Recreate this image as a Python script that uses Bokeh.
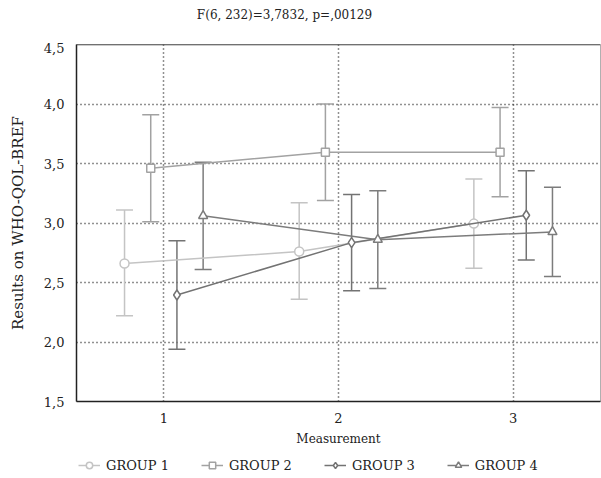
from bokeh.plotting import figure
from bokeh.models import (ColumnDataSource, Whisker, TeeHead, FixedTicker, Legend,
                          LegendItem, Range1d, Span, Label)
from bokeh.layouts import column
from bokeh.transform import dodge
from bokeh.embed import file_html
from bokeh.resources import INLINE

measurements = [1, 2, 3]
groups = ["GROUP 1", "GROUP 2", "GROUP 3", "GROUP 4"]
g1_mean = [2.66, 2.76, 2.995]
g1_low = [2.22, 2.36, 2.62]
g1_high = [3.11, 3.17, 3.37]
g2_mean = [3.46, 3.595, 3.595]
g2_low = [3.01, 3.19, 3.22]
g2_high = [3.91, 4.00, 3.97]
g3_mean = [2.395, 2.835, 3.065]
g3_low = [1.94, 2.43, 2.69]
g3_high = [2.85, 3.24, 3.44]
g4_mean = [3.06, 2.86, 2.925]
g4_low = [2.61, 2.45, 2.55]
g4_high = [3.51, 3.27, 3.30]
y_ticks = [1.5, 2.0, 2.5, 3.0, 3.5, 4.0, 4.5]
y_tick_labels = ["1,5", "2,0", "2,5", "3,0", "3,5", "4,0", "4,5"]
title_text = "F(6, 232)=3,7832, p=,00129"

FONT = "DejaVu Serif"
TXT = "#222222"


def strip(h):
    f = figure(width=601, height=h, output_backend="svg", toolbar_location=None,
               x_range=Range1d(100, 101), y_range=Range1d(100, 101),
               x_axis_location=None, y_axis_location=None,
               min_border_left=0, min_border_right=0, min_border_top=0,
               min_border_bottom=0)
    f.grid.visible = False
    f.outline_line_color = None
    return f


# title strip
head = strip(42)
head.add_layout(Label(x=208, y=28, x_units="screen", y_units="screen", text=title_text,
                      text_align="center", text_baseline="middle", text_font=FONT,
                      text_font_size="12px", text_color=TXT))

p = figure(width=601, height=406, output_backend="svg", toolbar_location=None,
           x_range=Range1d(0.5, 3.5), y_range=Range1d(1.5, 4.5),
           min_border_left=76, min_border_right=1, min_border_top=2,
           min_border_bottom=45)

p.outline_line_color = "#b0b0b0"
p.outline_line_width = 1
p.background_fill_color = "white"
p.border_fill_color = "white"

for ax in (p.xaxis, p.yaxis):
    ax.major_tick_line_color = None
    ax.minor_tick_line_color = None
    ax.axis_line_color = TXT
    ax.axis_line_width = 1.5
    ax.major_label_text_font = FONT
    ax.major_label_text_font_size = "13px"
    ax.major_label_text_color = TXT
    ax.axis_label_text_font = FONT
    ax.axis_label_text_font_style = "normal"
    ax.axis_label_text_color = TXT

p.xaxis.ticker = FixedTicker(ticks=measurements)
p.xaxis.major_label_standoff = 5
p.xaxis.axis_label = "Measurement"
p.xaxis.axis_label_text_font_size = "12px"
p.xaxis.axis_label_standoff = 6
p.yaxis.ticker = FixedTicker(ticks=y_ticks)
p.yaxis.major_label_overrides = {t: l for t, l in zip(y_ticks, y_tick_labels)}
p.yaxis.major_label_standoff = 6
p.yaxis.axis_label = "Results on WHO-QOL-BREF"
p.yaxis.axis_label_text_font_size = "15px"
p.yaxis.axis_label_standoff = 14

p.xgrid.ticker = FixedTicker(ticks=measurements)
p.ygrid.ticker = FixedTicker(ticks=[2.0, 2.5, 3.0, 3.5, 4.0])
for g in (p.xgrid, p.ygrid):
    g.grid_line_color = "#222222"
    g.grid_line_dash = "1 3"
    g.grid_line_width = 1.5

p.add_layout(Span(location=4.5, dimension="width", line_color="#333333", line_width=1.5))

series = [
    (g1_mean, g1_low, g1_high, "#c4c4c4", "circle", 9, -0.225),
    (g2_mean, g2_low, g2_high, "#a2a2a2", "square", 8, -0.075),
    (g3_mean, g3_low, g3_high, "#737373", "diamond", 10, 0.075),
    (g4_mean, g4_low, g4_high, "#7c7c7c", "triangle", 9, 0.225),
]

# legend strip below the chart (its ranges keep the copies of the series out of view)
lg = strip(30)

items = []
for name, (mean, low, high, color, marker, size, off) in zip(groups, series):
    src = ColumnDataSource(dict(x=measurements, mean=mean, low=low, high=high))
    xs = dodge("x", off, range=p.x_range)
    w = Whisker(base=xs, lower="low", upper="high", source=src, dimension="height",
                line_color=color, line_width=1.5,
                upper_head=TeeHead(size=17, line_color=color, line_width=1.5),
                lower_head=TeeHead(size=17, line_color=color, line_width=1.5))
    p.add_layout(w)
    p.line(x=xs, y="mean", source=src, line_color=color, line_width=1.5)
    p.scatter(x=xs, y="mean", source=src, marker=marker, size=size,
              line_color=color, line_width=1.5, fill_color="white")
    lr = lg.line(x="x", y="mean", source=src, line_color=color, line_width=1.5)
    sr = lg.scatter(x="x", y="mean", source=src, marker=marker, size=size,
                    line_color=color, line_width=1.5, fill_color="white")
    items.append(LegendItem(label=name, renderers=[lr, sr]))

legend = Legend(items=items, orientation="horizontal", location=(2, 5),
                spacing=32, glyph_width=22, glyph_height=16, label_standoff=6,
                padding=2, margin=0, border_line_color=None,
                background_fill_alpha=0,
                label_text_font=FONT, label_text_font_size="13px",
                label_text_color=TXT)
lg.add_layout(legend)

open("out.html", "w").write(file_html(column(head, p, lg, spacing=0), INLINE))
